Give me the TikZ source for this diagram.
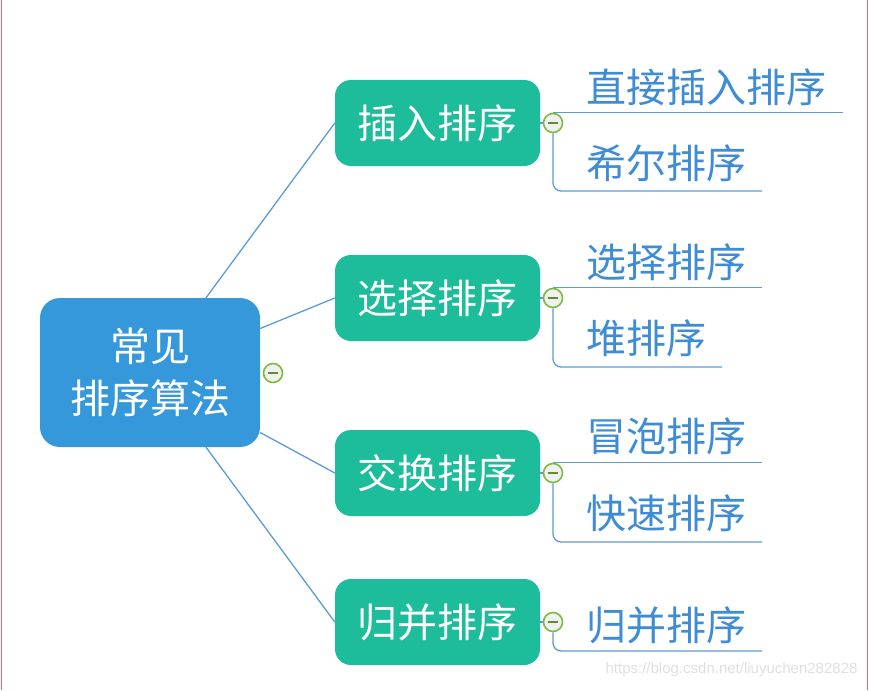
\documentclass[tikz,border=0pt]{standalone}
\usepackage{fontspec}
\setmainfont{Liberation Sans}
\newfontfamily\cjk{Noto Sans CJK SC}
\usetikzlibrary{positioning}
\definecolor{rootblue}{HTML}{3598DB}
\definecolor{topicgreen}{HTML}{1DBC9B}
\definecolor{linkblue}{HTML}{5C9BD6}
\definecolor{leafblue}{HTML}{3E8CD5}
\definecolor{foldgreen}{HTML}{7DBB3F}
\definecolor{framered}{HTML}{E07070}

\begin{document}
\begin{tikzpicture}[x=1pt, y=-1pt,
  root/.style={fill=rootblue, rounded corners=20pt, minimum width=220pt, minimum height=149pt, text=white, align=center, font=\cjk\fontsize{40}{52}\selectfont},
  topic/.style={fill=topicgreen, rounded corners=16pt, minimum width=205pt, minimum height=86pt, text=white, font=\cjk\fontsize{40}{44}\selectfont},
  leaf/.style={anchor=west, inner sep=0pt, text=leafblue, font=\cjk\fontsize{40}{44}\selectfont},
  link/.style={draw=linkblue, line width=1.3pt},
  fold/.style={circle, draw=foldgreen, line width=1.6pt, fill=gray!12, minimum size=19pt, inner sep=0pt,
    path picture={\draw[foldgreen!75!black, line width=1.8pt]
      ([xshift=-5pt]path picture bounding box.center) -- ([xshift=5pt]path picture bounding box.center);}}
]
  \useasboundingbox (0,0) rectangle (869,690);
  \draw[framered, line width=0.8pt] (1,0) -- (1,690);
  \draw[framered, line width=0.8pt] (867,0) -- (867,690);

  % root and its four topics
  \node[root] (root) at (150,372.5) {常见\\排序算法};
  \node[fold] (f0) at (273,373) {};

  \node[topic] (t1) at (437.5,123) {插入排序};
  \node[topic] (t2) at (437.5,298) {选择排序};
  \node[topic] (t3) at (437.5,473) {交换排序};
  \node[topic] (t4) at (437.5,622) {归并排序};

  \draw[link] ([xshift=56pt]root.north) -- (t1.west);
  \draw[link] ([yshift=44pt]root.east) -- (t2.west);
  \draw[link] ([yshift=-60pt]root.east) -- (t3.west);
  \draw[link] ([xshift=56pt]root.south) -- (t4.west);

  \node[fold] (f1) at (553,123) {};
  \node[fold] (f2) at (553,298) {};
  \node[fold] (f3) at (553,473) {};
  \node[fold] (f4) at (553,622) {};
  \foreach \i in {1,2,3,4}
    \draw[link] (t\i.east) -- (f\i.west);

  % leaves
  \node[leaf] (l11) at (586,87) {直接插入排序};
  \node[leaf] (l12) at (586,163) {希尔排序};
  \node[leaf] (l21) at (586,262) {选择排序};
  \node[leaf] (l22) at (586,338) {堆排序};
  \node[leaf] (l31) at (586,436) {冒泡排序};
  \node[leaf] (l32) at (586,513) {快速排序};
  \node[leaf] (l41) at (586,625) {归并排序};

  \coordinate (u11) at (843,113);
  \coordinate (u12) at (762,191);
  \coordinate (u21) at (762,289);
  \coordinate (u22) at (722,367);
  \coordinate (u31) at (762,463);
  \coordinate (u32) at (762,542);
  \coordinate (u41) at (762,651);

  \draw[link] (f1.north) -- (f1.north -| u11);
  \draw[link, rounded corners=8pt] (f1.south) |- (u12);
  \draw[link] (f2.north) -- (f2.north -| u21);
  \draw[link, rounded corners=8pt] (f2.south) |- (u22);
  \draw[link] (f3.north) -- (f3.north -| u31);
  \draw[link, rounded corners=8pt] (f3.south) |- (u32);
  \draw[link, rounded corners=8pt] (f4.south) |- (u41);

  \node[anchor=east, text=gray!25, font=\fontsize{15}{18}\selectfont] (url) at (861,670) {https://blog.csdn.net/liuyuchen282828};
\end{tikzpicture}
\end{document}
